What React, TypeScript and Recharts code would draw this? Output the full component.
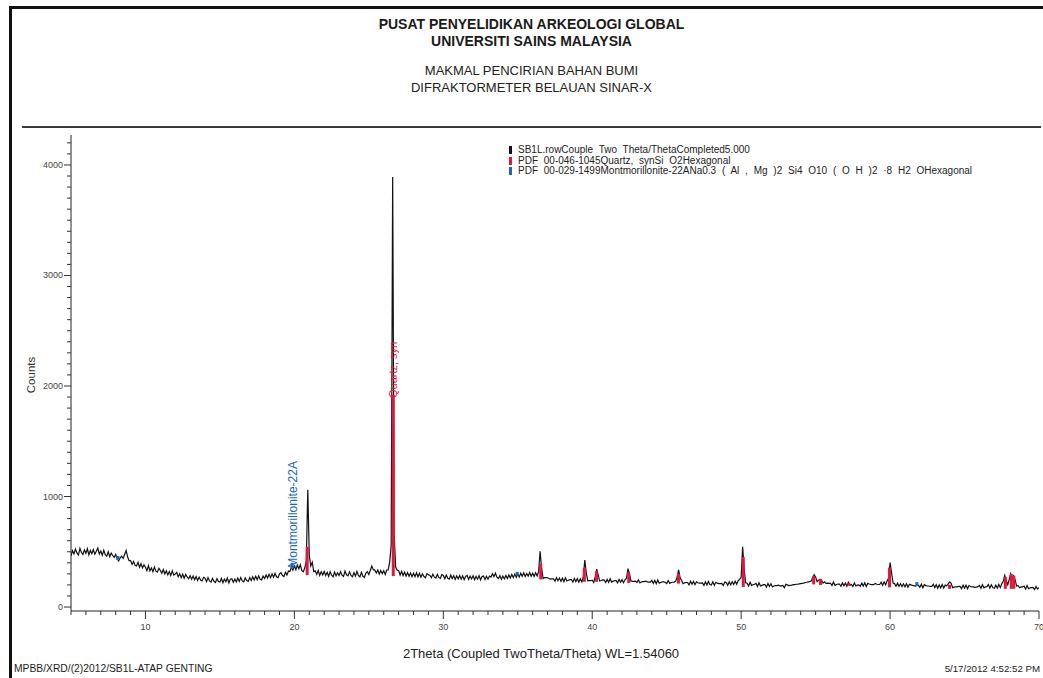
import React from 'react';
import { ComposedChart, Line, XAxis, YAxis, ReferenceLine, ReferenceDot } from 'recharts';

// ---- scan (2Theta start / step) ----
const scanStart = 5.0;
const scanStep = 0.1;

// counts per 0.1 deg, one row per degree (5.0..5.9, 6.0..6.9, ... , 70.0)
const countRows: number[][] = [
  [462, 510, 481, 524, 490, 470, 531, 493, 476, 517],
  [486, 527, 472, 512, 482, 520, 478, 504, 533, 480],
  [506, 468, 514, 474, 460, 500, 455, 488, 466, 449],
  [476, 434, 418, 444, 460, 440, 476, 512, 455, 420],
  [420, 386, 412, 378, 372, 404, 360, 392, 354, 383],
  [360, 329, 374, 328, 354, 320, 362, 324, 316, 350],
  [331, 305, 340, 299, 327, 290, 321, 286, 327, 289],
  [299, 313, 274, 301, 266, 297, 260, 295, 272, 256],
  [284, 252, 280, 247, 275, 240, 271, 244, 236, 269],
  [261, 230, 266, 236, 226, 259, 233, 222, 257, 231],
  [226, 258, 220, 253, 228, 262, 218, 251, 256, 224],
  [253, 226, 262, 231, 266, 236, 228, 264, 239, 232],
  [267, 240, 274, 245, 278, 248, 282, 252, 246, 280],
  [258, 290, 262, 296, 266, 300, 269, 304, 274, 266],
  [299, 311, 285, 276, 315, 289, 325, 321, 359, 333],
  [372, 338, 380, 346, 382, 329, 319, 355, 418, 1060],
  [469, 371, 405, 320, 327, 295, 332, 286, 319, 290],
  [322, 286, 315, 278, 320, 288, 274, 316, 282, 310],
  [284, 320, 288, 277, 325, 292, 282, 318, 286, 275],
  [312, 280, 322, 286, 273, 315, 280, 268, 308, 320],
  [295, 332, 370, 338, 334, 308, 335, 298, 330, 302],
  [328, 295, 335, 336, 409, 558, 3890, 652, 361, 334],
  [328, 290, 322, 285, 316, 280, 312, 278, 308, 274],
  [306, 275, 310, 272, 304, 270, 301, 276, 265, 302],
  [293, 286, 266, 298, 270, 262, 296, 268, 260, 294],
  [286, 256, 290, 260, 252, 288, 258, 284, 250, 282],
  [255, 285, 252, 282, 248, 278, 286, 250, 280, 254],
  [282, 248, 278, 252, 284, 246, 276, 280, 248, 278],
  [252, 280, 271, 302, 275, 306, 270, 258, 284, 252],
  [280, 254, 286, 258, 290, 262, 294, 266, 298, 270],
  [302, 272, 306, 278, 310, 276, 304, 280, 312, 278],
  [306, 276, 310, 282, 320, 505, 349, 258, 266, 266],
  [265, 258, 252, 254, 254, 234, 266, 238, 262, 232],
  [260, 230, 264, 236, 242, 248, 248, 226, 258, 230],
  [256, 226, 254, 228, 272, 425, 309, 238, 240, 238],
  [242, 222, 272, 342, 290, 235, 240, 246, 244, 222],
  [250, 224, 256, 226, 234, 238, 240, 218, 250, 224],
  [248, 220, 246, 260, 348, 299, 236, 232, 232, 234],
  [222, 246, 218, 226, 230, 230, 234, 228, 226, 226],
  [242, 214, 240, 210, 244, 216, 222, 228, 228, 224],
  [212, 240, 214, 222, 224, 226, 232, 269, 337, 266],
  [240, 212, 219, 222, 222, 200, 234, 206, 232, 202],
  [228, 220, 216, 216, 218, 196, 228, 200, 232, 204],
  [200, 228, 196, 224, 216, 212, 212, 214, 194, 226],
  [222, 196, 228, 200, 230, 204, 234, 206, 238, 250],
  [269, 545, 345, 220, 216, 190, 224, 196, 202, 206],
  [214, 186, 220, 190, 196, 202, 202, 180, 214, 186],
  [210, 182, 190, 194, 194, 198, 192, 192, 196, 174],
  [206, 200, 194, 196, 198, 202, 202, 206, 206, 210],
  [212, 214, 216, 222, 224, 228, 229, 236, 265, 292],
  [272, 230, 242, 252, 242, 216, 228, 214, 216, 214],
  [214, 194, 226, 196, 204, 208, 208, 188, 218, 192],
  [216, 188, 224, 198, 204, 186, 218, 190, 198, 200],
  [188, 216, 190, 220, 186, 214, 208, 204, 202, 202],
  [214, 206, 204, 204, 224, 196, 228, 202, 236, 262],
  [402, 309, 216, 212, 188, 216, 186, 212, 184, 210],
  [182, 210, 178, 206, 200, 196, 194, 190, 196, 198],
  [178, 206, 174, 202, 194, 190, 190, 186, 186, 206],
  [176, 202, 170, 200, 174, 204, 172, 198, 192, 210],
  [228, 214, 174, 180, 182, 182, 186, 186, 166, 198],
  [170, 198, 166, 194, 186, 182, 182, 178, 180, 184],
  [196, 170, 202, 174, 182, 184, 204, 172, 200, 176],
  [170, 198, 172, 204, 176, 210, 232, 287, 239, 202],
  [249, 302, 259, 284, 244, 190, 194, 174, 182, 182],
  [190, 162, 194, 166, 174, 176, 178, 158, 186, 162],
  [176],
];

// ---- PDF reference sticks ----
const quartzPositions = [20.86, 26.64, 36.54, 39.47, 40.29, 42.45, 45.79, 50.14, 54.87, 55.33, 57.24, 59.96, 63.99, 67.74, 68.14, 68.31];
const quartzBase = [290, 280, 250, 228, 228, 218, 212, 182, 205, 200, 192, 178, 165, 165, 165, 165];
const quartzTop = [545, 1920, 392, 355, 322, 312, 298, 452, 282, 252, 215, 357, 202, 272, 298, 282];

const montPositions = [8.15, 19.85, 34.96, 61.8];
const montBase = [425, 345, 282, 190];
const montTop = [462, 400, 318, 225];

// ---- axes ----
const xTickValues = Array.from({ length: 66 }, (_, i) => 5 + i);
const yTickValues = Array.from({ length: 43 }, (_, i) => i * 100);
const xDomain: [number, number] = [5, 70];
const yDomain: [number, number] = [-36, 4271];

// ---- texts ----
const titleLines = ['PUSAT PENYELIDIKAN ARKEOLOGI GLOBAL', 'UNIVERSITI SAINS MALAYSIA'];
const subtitleLines = ['MAKMAL PENCIRIAN BAHAN BUMI', 'DIFRAKTORMETER BELAUAN SINAR-X'];
const legendLabels = [
  'SB1L.rowCouple Two Theta/ThetaCompleted5.000',
  'PDF 00-046-1045Quartz, synSi O2Hexagonal',
  'PDF 00-029-1499Montmorillonite-22ANa0.3 ( Al , Mg )2 Si4 O10 ( O H )2 ·8 H2 OHexagonal',
];
const legendColors = ['#111111', '#e3173c', '#1c68b6'];
const xAxisTitle = '2Theta (Coupled TwoTheta/Theta) WL=1.54060';
const yAxisTitle = 'Counts';
const footerLeft = 'MPBB/XRD/(2)2012/SB1L-ATAP GENTING';
const footerRight = '5/17/2012 4:52:52 PM';
const quartzLabel = 'Quartz, syn';
const montLabel = 'Montmorillonite-22A';

const FONT = "'Liberation Sans', Arial, Helvetica, sans-serif";
const RED = '#e3173c';
const BLUE = '#1c68b6';

const data = countRows.flat().map((c, i) => ({
  x: Math.round((scanStart + i * scanStep) * 10) / 10,
  counts: c,
}));

const XTick = (props: any) => {
  const { x, y, payload } = props;
  const v = payload.value as number;
  const major = v % 10 === 0;
  return (
    <g>
      <line x1={x} x2={x} y1={y} y2={y + (major ? 8 : 4)} stroke="#333" strokeWidth={1} />
      {major && (
        <text x={x} y={y + 16} textAnchor="middle" dominantBaseline="central" fontSize={9} fill="#444" style={{ fontFamily: FONT }}>
          {v}
        </text>
      )}
    </g>
  );
};

const YTick = (props: any) => {
  const { x, y, payload } = props;
  const v = payload.value as number;
  const major = v % 1000 === 0;
  return (
    <g>
      <line x1={x - (major ? 7 : 4)} x2={x} y1={y} y2={y} stroke="#333" strokeWidth={1} />
      {major && (
        <text x={x - 8} y={y} textAnchor="end" dominantBaseline="central" fontSize={9} fill="#444" style={{ fontFamily: FONT }}>
          {v}
        </text>
      )}
    </g>
  );
};

const rotatedLabel = (text: string, color: string, size: number) => (props: any) => {
  const vb = props.viewBox || {};
  const cx = vb.x + (vb.width || 0) / 2;
  const cy = vb.y + (vb.height || 0) / 2;
  return (
    <text
      x={cx}
      y={cy}
      transform={`rotate(-90 ${cx} ${cy})`}
      textAnchor="start"
      dominantBaseline="central"
      fontSize={size}
      fill={color}
      style={{ fontFamily: FONT }}
    >
      {text}
    </text>
  );
};

export default function App() {
  return (
    <div style={{ position: 'absolute', left: 0, top: 0, width: 1043, height: 678, background: '#ffffff', overflow: 'hidden', fontFamily: FONT, color: '#222' }}>
      {/* frame */}
      <div style={{ position: 'absolute', left: 9, top: 6, width: 1034, height: 3, background: '#111' }} />
      <div style={{ position: 'absolute', left: 9, top: 6, width: 3, height: 672, background: '#111' }} />
      <div style={{ position: 'absolute', left: 22, top: 126, width: 1019, height: 2, background: '#3a3a3a' }} />

      {/* titles */}
      {titleLines.map((t, i) => (
        <div key={t} style={{ position: 'absolute', left: 0, width: 1063, top: 16 + i * 17, height: 16, lineHeight: '16px', textAlign: 'center', fontWeight: 'bold', fontSize: 14, color: '#1a1a1a' }}>
          {t}
        </div>
      ))}
      {subtitleLines.map((t, i) => (
        <div key={t} style={{ position: 'absolute', left: 0, width: 1063, top: 63 + i * 16.5, height: 16, lineHeight: '16px', textAlign: 'center', fontSize: 13, color: '#222' }}>
          {t}
        </div>
      ))}

      {/* legend */}
      {legendLabels.map((t, i) => (
        <div key={t} style={{ position: 'absolute', left: 509, top: 144 + i * 10.5, height: 11, lineHeight: '11px', fontSize: 10, wordSpacing: 3, color: '#222', whiteSpace: 'nowrap' }}>
          <span style={{ display: 'inline-block', width: 3, height: 8, background: legendColors[i], marginRight: 6, verticalAlign: 'middle' }} />
          {t}
        </div>
      ))}

      {/* axis titles & footer */}
      <div style={{ position: 'absolute', left: 31 - 40, top: 375 - 7, width: 80, height: 14, lineHeight: '14px', textAlign: 'center', fontSize: 11.5, color: '#333', transform: 'rotate(-90deg)' }}>
        {yAxisTitle}
      </div>
      <div style={{ position: 'absolute', left: 241, width: 600, top: 646, height: 16, lineHeight: '16px', textAlign: 'center', fontSize: 13, color: '#222' }}>
        {xAxisTitle}
      </div>
      <div style={{ position: 'absolute', left: 14, top: 663, height: 12, lineHeight: '12px', fontSize: 10.3, color: '#222', whiteSpace: 'nowrap' }}>
        {footerLeft}
      </div>
      <div style={{ position: 'absolute', right: 3, top: 663, height: 12, lineHeight: '12px', fontSize: 9.7, color: '#222', whiteSpace: 'nowrap', textAlign: 'right' }}>
        {footerRight}
      </div>

      <div style={{ position: 'absolute', left: 0, top: 0 }}>
        <ComposedChart width={1043} height={678} data={data} margin={{ top: 135, right: 4, bottom: 7, left: 11 }}>
          <XAxis
            dataKey="x"
            type="number"
            domain={xDomain}
            allowDataOverflow
            ticks={xTickValues}
            interval={0}
            tickSize={0}
            tickMargin={0}
            tickLine={false}
            tick={<XTick />}
            axisLine={{ stroke: '#222', strokeWidth: 1 }}
            height={60}
          />
          <YAxis
            type="number"
            domain={yDomain}
            allowDataOverflow
            ticks={yTickValues}
            interval={0}
            tickSize={0}
            tickMargin={0}
            tickLine={false}
            tick={<YTick />}
            axisLine={{ stroke: '#222', strokeWidth: 1 }}
            width={60}
          />
          <Line type="linear" dataKey="counts" stroke="#111" strokeWidth={1.2} dot={false} isAnimationActive={false} />
          {quartzPositions.map((p, i) => (
            <ReferenceLine
              key={`q${p}`}
              segment={[{ x: p, y: quartzBase[i] }, { x: p, y: quartzTop[i] }]}
              stroke={RED}
              strokeWidth={3}
              ifOverflow="visible"
            />
          ))}
          {montPositions.map((p, i) => (
            <ReferenceLine
              key={`m${p}`}
              segment={[{ x: p, y: montBase[i] }, { x: p, y: montTop[i] }]}
              stroke={BLUE}
              strokeWidth={3}
              ifOverflow="visible"
            />
          ))}
          <ReferenceDot x={26.64} y={1891} r={0} fill="none" stroke="none" ifOverflow="visible" label={rotatedLabel(quartzLabel, RED, 11)} />
          <ReferenceDot x={19.9} y={355} r={0} fill="none" stroke="none" ifOverflow="visible" label={rotatedLabel(montLabel, BLUE, 12)} />
        </ComposedChart>
      </div>
    </div>
  );
}
